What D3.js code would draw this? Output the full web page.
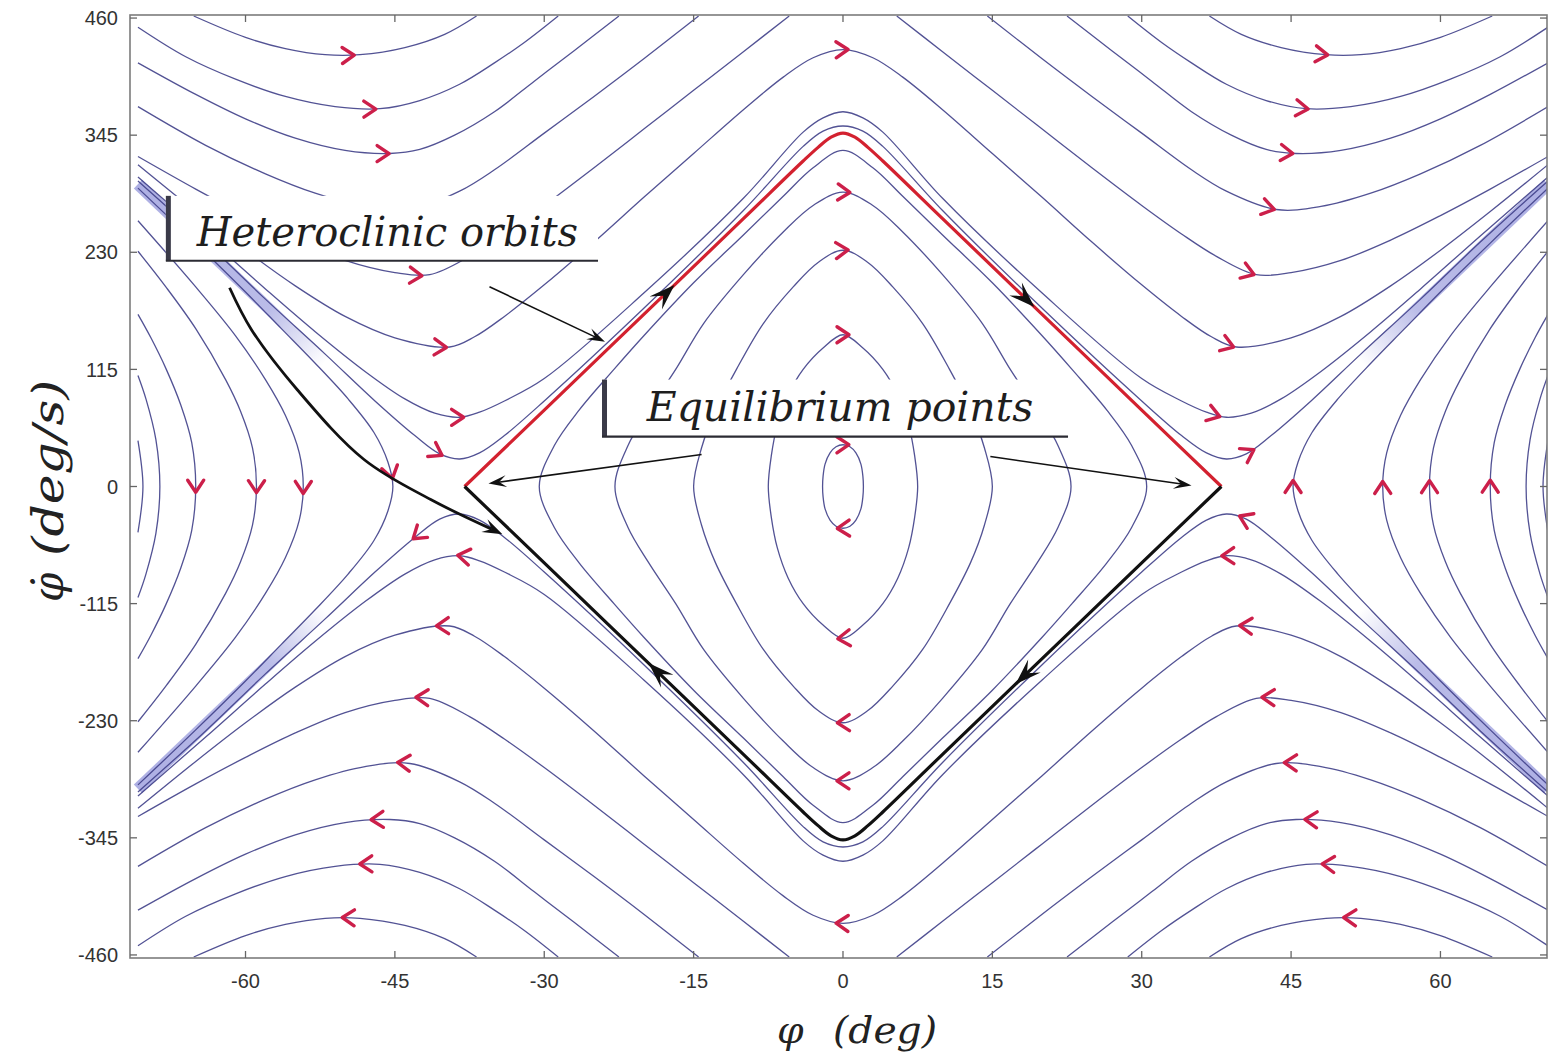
<!DOCTYPE html>
<html>
<head>
<meta charset="utf-8">
<script src="https://cdn.jsdelivr.net/npm/d3@7"></script>
<style>
  body { margin: 0; background: #fff; }
  svg { display: block; }
</style>
</head>
<body>
<svg id="chart" width="1548" height="1061"></svg>
<script>
// ---- data: [phi (deg), phidot (deg/s)] ----
var xTicks = [-60, -45, -30, -15, 0, 15, 30, 45, 60];
var yTicks = [-460, -345, -230, -115, 0, 115, 230, 345, 460];

// closed orbits around the centre, upper-right quarter, top -> axis crossing
var closedOrbits = [
  [[0, 41], [0.7, 39], [1.3, 33], [1.8, 22], [2.0, 10], [2.05, 0]],
  [[0, 149], [2, 136], [4, 115], [5.5, 90], [6.6, 60], [7.2, 30], [7.5, 0]],
  [[0, 232], [2.5, 220], [5, 196], [8, 160], [10.7, 115], [12.8, 75], [14.2, 38], [15.0, 0]],
  [[0, 289], [3, 276], [6, 250], [10, 208], [14, 160], [16.8, 115], [19.5, 75], [21.6, 40], [22.9, 0]],
  [[0, 330], [3, 313], [6, 285], [10, 247], [15, 200], [20, 148], [23, 115], [26.5, 75], [29, 40], [30.5, 0]]
];

// heteroclinic orbit (upper-right quarter)
var separatrix = [[0, 347], [1.2, 343], [2.5, 333], [4, 319.6], [10, 263], [20, 169], [30, 75], [38, 0]];

// curves passing over phi = 0 above the separatrix (upper-right quarter)
var apexCurves = [
  [[0, 354], [2, 349], [4, 334], [10, 271], [20, 175], [30, 84], [34, 50], [36.5, 33], [38.5, 27], [40.5, 32], [43, 50], [47, 84], [52, 130], [58, 184], [64, 240], [70.8, 300]],
  [[0, 368], [2, 362], [4, 348], [10, 283], [20, 190], [30, 106], [34, 84], [36.5, 73], [38.5, 68], [41, 72], [44, 86], [48, 113], [53, 152], [58, 194], [64, 246], [70.8, 304]],
  [[0, 429], [3, 421], [6, 402], [10, 370], [15, 327], [20, 284], [25, 240], [30, 198], [34, 167], [37, 147], [39.5, 137], [45, 146], [50, 167], [55, 197], [60, 232], [65, 270], [70.8, 316]]
];

// curves entering from the top frame (upper-right corner)
var cornerCurves = [
  [[36.8, 462], [40, 444], [44, 431], [48.5, 424], [52, 424], [56, 430], [60, 441], [65.2, 462]],
  [[28.6, 462], [32, 436], [35, 416], [38.5, 395], [42.5, 379], [46.5, 371], [51, 373], [56, 383], [61, 400], [66, 422], [70.8, 451]],
  [[22.5, 462], [27, 428], [31, 398], [35, 368], [39, 345], [42.5, 331], [45.5, 327], [50, 330], [55, 342], [60, 361], [65, 385], [70.8, 416]],
  [[14.5, 462], [20, 420], [25, 383], [30, 347], [35, 311], [38.5, 290], [43.5, 272], [48, 275], [53, 288], [58, 307], [64, 335], [70.8, 373]],
  [[5.4, 462], [10, 427], [15, 389], [20, 351], [25, 313], [30, 276], [34, 248], [37.5, 226], [41.5, 208], [45, 210], [50, 222], [55, 242], [60, 266], [65, 292], [70.8, 324]]
];

// open curves beyond the saddles (right side, upper half)
var sideCurves = [
  [[45.2, 0], [45.7, 24], [47.1, 53], [49.7, 86], [53.1, 122], [56.4, 155], [60, 191], [65, 239], [70.8, 293]],
  [[54.2, 0], [54.6, 33], [56, 70], [58, 105], [61, 148], [65, 196], [70.8, 261]],
  [[58.9, 0], [59.3, 38], [60.5, 74], [62, 105], [65, 155], [68, 196], [70.8, 231]],
  [[65.0, 0], [65.4, 43], [66.5, 80], [68, 116], [69.5, 146], [70.8, 169]],
  [[68.6, 0], [69, 46], [70, 86], [70.8, 109]],
  [[70.3, 0], [70.8, 45]]
];

// bundle of streamlines along the outgoing separatrix
var bandLine = [[52, 122], [70.8, 297]];

// red direction arrows
var flowArrows = [
  [-49.7, 423.7], [-47.5, 369.7], [-46.2, 325.5], [-43.0, 202.8], [-40.5, 136], [-38.7, 67.3], [-41.3, 26],
  [48.1, 421.7], [46.1, 369.7], [44.6, 325.5], [42.6, 271.5], [40.6, 207.7], [38.5, 136], [37.2, 68.2], [41.1, 28],
  [0, 423.7], [0, 289], [0, 232], [0, 146.8], [0, 40.7],
  [0, -42.7], [0, -147.8], [0, -231], [0, -293], [0, -425.7],
  [-65.7, 0], [-59.6, 0], [-54.8, 0], [-45.5, 13.3],
  [45.2, 0], [54.2, 0], [58.9, 0], [65.0, 0],
  [40.6, -25], [-43.2, -42.7],
  [-38.2, -69.2], [-40.2, -134], [-42.3, -204.7], [-44.2, -273.5], [-46.7, -329.4], [-48.0, -368.7], [-49.7, -422.7],
  [38.6, -72.2], [40.4, -139], [42.6, -204.7], [44.9, -273.5], [46.9, -329.4], [48.7, -368.7], [50.9, -422.7]
];

// black arrows on the heteroclinic orbits
var orbitArrows = [[-17.4, 188], [17.8, 178], [17.8, -182], [-18.9, -182]];

// annotation layout, in data units
var notes = {
  box1: { x0: -68.0, x1: -24.6, y0: 285.4, y1: 221.7, tx0: -64.9, tx1: -26.6, ty: 236.4, text: "Heteroclinic orbits" },
  box2: { x0: -24.2, x1: 22.6, y0: 105, y1: 49, tx0: -19.7, tx1: 19.1, ty: 64.7, text: "Equilibrium points" },
  arrowA: [[-35.5, 196.2], [-23.9, 142.2]],
  arrowB: [[-61.6, 195.2], [-59.4, 154], [-54.8, 95], [-48.1, 26.5], [-41.4, -12.8], [-34.2, -47]],
  arrowC: [[-14.2, 31.4], [-35.6, 2.9]],
  arrowD: [[14.8, 29.4], [35.0, 1.0]]
};

// ---- drawing ----
var svg = d3.select("#chart");
var plotL = 130, plotR = 1547, plotT = 15, plotB = 958;

var x = d3.scaleLinear().domain([-71.6, 70.8]).range([plotL, 1548]);
var y = d3.scaleLinear().domain([-463, 463]).range([plotB, plotT]);

var defs = svg.append("defs");
defs.append("clipPath").attr("id", "clip")
  .append("rect").attr("x", plotL).attr("y", plotT)
  .attr("width", plotR - plotL).attr("height", plotB - plotT);

var plot = svg.append("g").attr("clip-path", "url(#clip)");

var line = d3.line().x(function(d){ return x(d[0]); }).y(function(d){ return y(d[1]); })
  .curve(d3.curveCatmullRom.alpha(0.5));
var loop = d3.line().x(function(d){ return x(d[0]); }).y(function(d){ return y(d[1]); })
  .curve(d3.curveCatmullRomClosed.alpha(0.5));

function flipX(a){ return a.map(function(p){ return [-p[0], p[1]]; }); }
function flipY(a){ return a.map(function(p){ return [p[0], -p[1]]; }); }
function rev(a){ return a.slice().reverse(); }

function closedLoop(q){
  var b = flipY(rev(q).slice(1));
  var c = q.slice(1).map(function(p){ return [-p[0], -p[1]]; });
  var d = flipX(rev(q).slice(1, -1));
  return q.concat(b, c, d);
}
function overTop(q){ return flipX(rev(q).slice(0, -1)).concat(q); }
function overAxis(q){ return flipY(rev(q).slice(0, -1)).concat(q); }

var flowColor = "#3f3f88";

// band of bunched streamlines, fading toward the saddle
[[1, 1], [-1, 1], [1, -1], [-1, -1]].forEach(function(s, k){
  var pts = bandLine.map(function(p){ return [s[0] * p[0], s[1] * p[1]]; });
  var grad = defs.append("linearGradient").attr("id", "band" + k)
    .attr("gradientUnits", "userSpaceOnUse")
    .attr("x1", x(pts[0][0])).attr("y1", y(pts[0][1]))
    .attr("x2", x(pts[1][0])).attr("y2", y(pts[1][1]));
  grad.append("stop").attr("offset", 0).attr("stop-color", "#aeb0e4").attr("stop-opacity", 0);
  grad.append("stop").attr("offset", 0.3).attr("stop-color", "#aeb0e4").attr("stop-opacity", 0.85);
  grad.append("stop").attr("offset", 1).attr("stop-color", "#a9abe2").attr("stop-opacity", 0.95);
  plot.append("path")
    .attr("d", line(pts))
    .attr("fill", "none").attr("stroke", "url(#band" + k + ")").attr("stroke-width", 12);
});

var flowPaths = [];
function flow(pts, closed){
  var p = plot.append("path")
    .attr("class", "flow")
    .attr("d", closed ? loop(pts) : line(pts))
    .attr("fill", "none").attr("stroke", flowColor)
    .attr("stroke-width", 1.3).attr("stroke-opacity", 0.9);
  flowPaths.push(p.node());
}

closedOrbits.forEach(function(q){ flow(closedLoop(q), true); });
apexCurves.forEach(function(q){
  var full = overTop(q);
  flow(full); flow(flipY(full));
});
cornerCurves.forEach(function(q){
  flow(q); flow(flipX(q)); flow(flipY(q)); flow(flipY(flipX(q)));
});
sideCurves.forEach(function(q){
  var full = overAxis(q);
  flow(full); flow(flipX(full));
});

// heteroclinic orbits
var upper = overTop(separatrix);
var redPath = plot.append("path").attr("d", line(upper))
  .attr("fill", "none").attr("stroke", "#d3212f").attr("stroke-width", 3.2).node();
var blackPath = plot.append("path").attr("d", line(flipY(upper)))
  .attr("fill", "none").attr("stroke", "#111").attr("stroke-width", 3.2).node();

// sample paths so arrows can sit on the curves
function sample(nodes){
  return nodes.map(function(n){
    var L = n.getTotalLength(), pts = [];
    for (var s = 0; s <= L; s += 2) { var p = n.getPointAtLength(s); pts.push([p.x, p.y]); }
    return pts;
  });
}
function placeArrow(a, sets){
  var px = x(a[0]), py = y(a[1]);
  var best = null, bd = Infinity;
  sets.forEach(function(pts){
    for (var i = 1; i < pts.length - 1; i++) {
      var dx = pts[i][0] - px, dy = pts[i][1] - py, d = dx * dx + dy * dy;
      if (d < bd) { bd = d; best = [pts, i]; }
    }
  });
  var pts = best[0], i = best[1];
  var tx = pts[i + 1][0] - pts[i - 1][0], ty = pts[i + 1][1] - pts[i - 1][1];
  var len = Math.hypot(tx, ty); tx /= len; ty /= len;
  var sgn;
  if (Math.abs(tx) > 0.3) sgn = (a[1] >= 0 ? 1 : -1) * Math.sign(tx);
  else sgn = (a[0] > 0 ? -1 : 1) * Math.sign(ty);
  return { x: pts[i][0], y: pts[i][1], ux: tx * sgn, uy: ty * sgn };
}

var flowSamples = sample(flowPaths);
var arrowG = svg.append("g");
flowArrows.forEach(function(a){
  var r = placeArrow(a, flowSamples);
  var nx = -r.uy, ny = r.ux, L = 12, w = 8;
  var tip = [r.x + r.ux * 6, r.y + r.uy * 6];
  arrowG.append("path")
    .attr("d", "M" + (tip[0] - r.ux * L + nx * w) + "," + (tip[1] - r.uy * L + ny * w) +
               "L" + tip[0] + "," + tip[1] +
               "L" + (tip[0] - r.ux * L - nx * w) + "," + (tip[1] - r.uy * L - ny * w))
    .attr("fill", "none").attr("stroke", "#cc1f4a").attr("stroke-width", 3.4)
    .attr("stroke-linecap", "round").attr("stroke-linejoin", "round");
});

function arrowHead(g, tipX, tipY, ux, uy, L, w){
  var nx = -uy, ny = ux;
  g.append("path")
    .attr("d", "M" + tipX + "," + tipY +
      "L" + (tipX - ux * L + nx * w) + "," + (tipY - uy * L + ny * w) +
      "L" + (tipX - ux * L * 0.6) + "," + (tipY - uy * L * 0.6) +
      "L" + (tipX - ux * L - nx * w) + "," + (tipY - uy * L - ny * w) + "Z")
    .attr("fill", "#111");
}

var orbitSamples = sample([redPath, blackPath]);
orbitArrows.forEach(function(a){
  var r = placeArrow(a, orbitSamples);
  arrowHead(arrowG, r.x + r.ux * 11, r.y + r.uy * 11, r.ux, r.uy, 26, 9);
});

// annotation boxes
function noteBox(b){
  var g = svg.append("g");
  var x0 = x(b.x0), x1 = x(b.x1), y0 = y(b.y0), y1 = y(b.y1);
  g.append("rect").attr("x", x0).attr("y", y0).attr("width", x1 - x0).attr("height", y1 - y0)
    .attr("fill", "#fff");
  g.append("rect").attr("x", x0).attr("y", y0).attr("width", 5).attr("height", y1 - y0)
    .attr("fill", "#3a3a48");
  g.append("line").attr("x1", x0).attr("x2", x1).attr("y1", y1).attr("y2", y1)
    .attr("stroke", "#2b2b33").attr("stroke-width", 2.2);
  g.append("text").attr("x", x(b.tx0)).attr("y", y(b.ty))
    .attr("textLength", x(b.tx1) - x(b.tx0)).attr("lengthAdjust", "spacingAndGlyphs")
    .attr("font-family", "'DejaVu Serif', 'Liberation Serif', serif")
    .attr("font-style", "italic").attr("font-size", 41).attr("fill", "#1e1e1e")
    .text(b.text);
}
noteBox(notes.box1);
noteBox(notes.box2);

var noteG = svg.append("g");
function straightArrow(seg, width){
  var a = [x(seg[0][0]), y(seg[0][1])], b = [x(seg[1][0]), y(seg[1][1])];
  var dx = b[0] - a[0], dy = b[1] - a[1], len = Math.hypot(dx, dy);
  var ux = dx / len, uy = dy / len;
  noteG.append("line").attr("x1", a[0]).attr("y1", a[1])
    .attr("x2", b[0] - ux * 10).attr("y2", b[1] - uy * 10)
    .attr("stroke", "#111").attr("stroke-width", width);
  arrowHead(noteG, b[0], b[1], ux, uy, 18, 6);
}
straightArrow(notes.arrowA, 1.6);
straightArrow(notes.arrowC, 1.6);
straightArrow(notes.arrowD, 1.6);

// curved arrow to the lower heteroclinic orbit
(function(){
  var pts = notes.arrowB;
  var n = pts.length;
  var end = [x(pts[n - 1][0]), y(pts[n - 1][1])], prev = [x(pts[n - 2][0]), y(pts[n - 2][1])];
  var dx = end[0] - prev[0], dy = end[1] - prev[1], len = Math.hypot(dx, dy);
  noteG.append("path").attr("d", line(pts.slice(0, -1).concat([[x.invert(end[0] - dx / len * 12), y.invert(end[1] - dy / len * 12)]])))
    .attr("fill", "none").attr("stroke", "#111").attr("stroke-width", 2.8);
  arrowHead(noteG, end[0], end[1], dx / len, dy / len, 20, 7);
})();

// frame and ticks
var axisG = svg.append("g");
axisG.append("rect").attr("x", plotL).attr("y", plotT).attr("width", plotR - plotL).attr("height", plotB - plotT)
  .attr("fill", "none").attr("stroke", "#7c7c7c").attr("stroke-width", 1.6);

xTicks.forEach(function(v){
  var px = x(v);
  axisG.append("line").attr("x1", px).attr("x2", px).attr("y1", plotB).attr("y2", plotB - 7)
    .attr("stroke", "#666").attr("stroke-width", 1.3);
  axisG.append("line").attr("x1", px).attr("x2", px).attr("y1", plotT).attr("y2", plotT + 7)
    .attr("stroke", "#666").attr("stroke-width", 1.3);
  axisG.append("text").attr("x", px).attr("y", 988).attr("text-anchor", "middle")
    .attr("font-family", "'Liberation Sans', Arial, sans-serif").attr("font-size", 20)
    .attr("fill", "#333").text(v);
});
yTicks.forEach(function(v){
  var py = y(v);
  axisG.append("line").attr("x1", plotL).attr("x2", plotL + 7).attr("y1", py).attr("y2", py)
    .attr("stroke", "#666").attr("stroke-width", 1.3);
  axisG.append("line").attr("x1", plotR).attr("x2", plotR - 7).attr("y1", py).attr("y2", py)
    .attr("stroke", "#666").attr("stroke-width", 1.3);
  axisG.append("text").attr("x", 118).attr("y", py).attr("dy", "0.36em").attr("text-anchor", "end")
    .attr("font-family", "'Liberation Sans', Arial, sans-serif").attr("font-size", 20)
    .attr("fill", "#333").text(v);
});

// axis titles
var titleFont = "'DejaVu Serif', 'Liberation Serif', serif";
axisG.append("text").attr("x", 777).attr("y", 1043)
  .attr("font-family", titleFont).attr("font-style", "italic").attr("font-size", 38)
  .attr("fill", "#222").text("φ");
axisG.append("text").attr("x", 833).attr("y", 1043)
  .attr("textLength", 104).attr("lengthAdjust", "spacingAndGlyphs")
  .attr("font-family", titleFont).attr("font-style", "italic").attr("font-size", 38)
  .attr("fill", "#222").text("(deg)");

var yt = axisG.append("g").attr("transform", "translate(63,0) rotate(-90)");
yt.append("text").attr("x", -602).attr("y", 0)
  .attr("font-family", titleFont).attr("font-style", "italic").attr("font-size", 42)
  .attr("fill", "#222").text("φ̇");
yt.append("text").attr("x", -556).attr("y", 0)
  .attr("textLength", 176).attr("lengthAdjust", "spacingAndGlyphs")
  .attr("font-family", titleFont).attr("font-style", "italic").attr("font-size", 42)
  .attr("fill", "#222").text("(deg/s)");
</script>
</body>
</html>
